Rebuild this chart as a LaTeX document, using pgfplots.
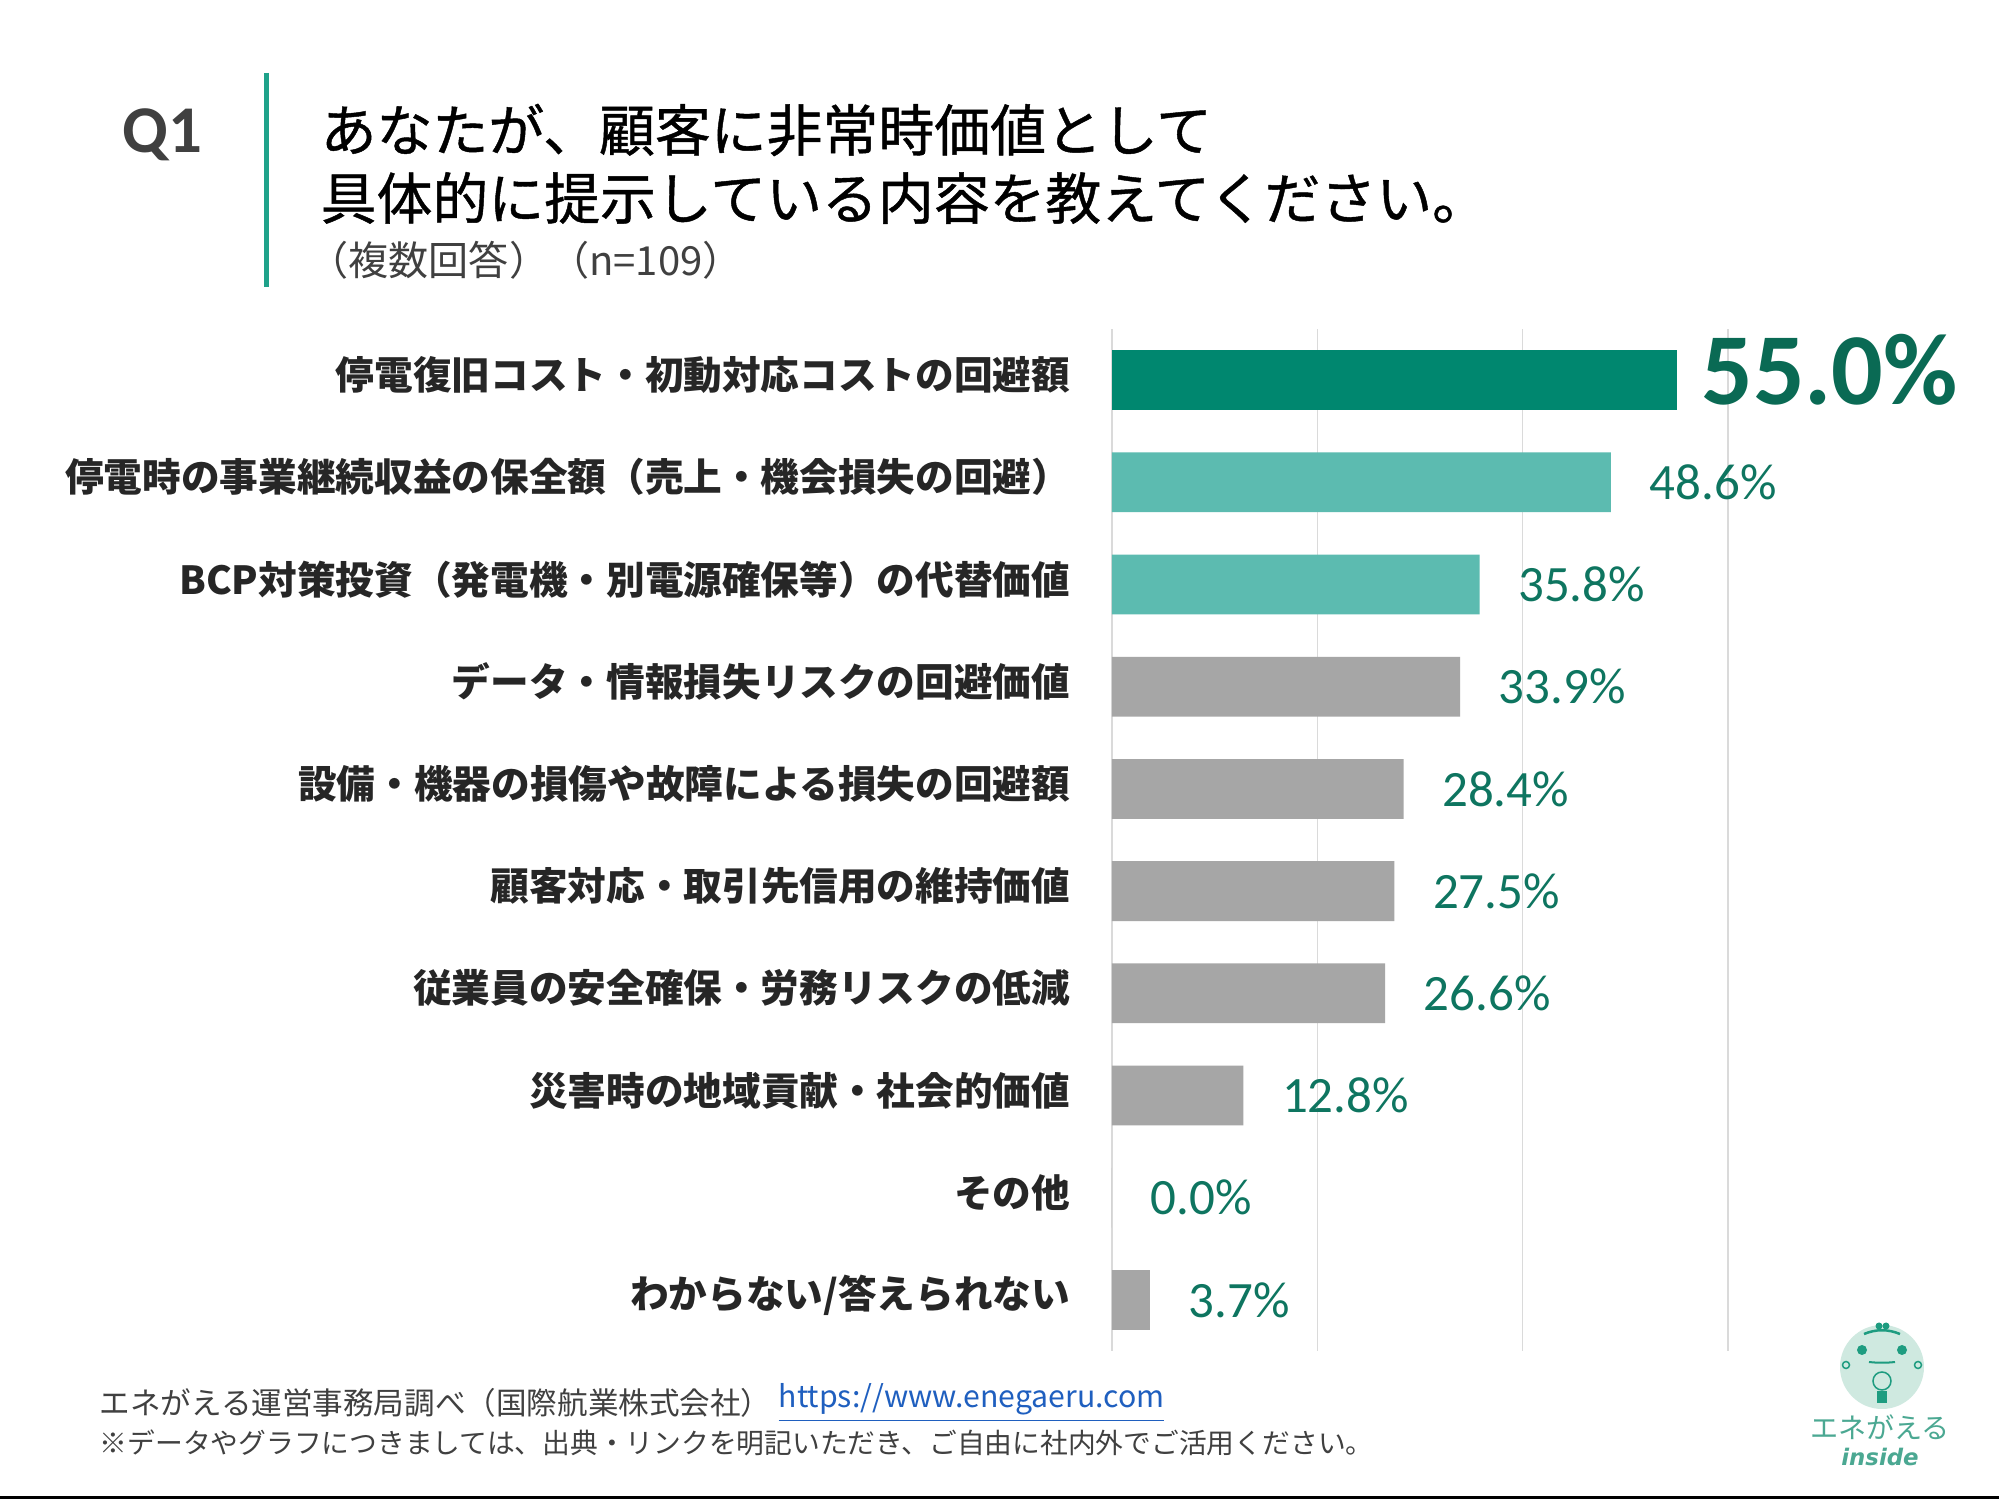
\documentclass[border=0pt]{standalone}
\usepackage{pgfplots}
\pgfplotsset{compat=1.18}
\usepackage{fontspec}
\setmainfont{Carlito}
\newfontfamily\jp{Noto Sans CJK JP}
\newfontfamily\jpm{Noto Sans CJK JP}[FakeBold=0.8]
\newfontfamily\logofont{DejaVu Sans}

\definecolor{barDark}{HTML}{00876F}
\definecolor{barLight}{HTML}{5CBBB0}
\definecolor{barGray}{HTML}{A6A6A6}
\definecolor{valText}{HTML}{0E7560}
\definecolor{valTextBig}{HTML}{0A6A54}
\definecolor{accent}{HTML}{1FA28A}
\definecolor{gridGray}{HTML}{DADADA}
\definecolor{textDark}{HTML}{262626}
\definecolor{noteGray}{HTML}{404040}
\definecolor{linkBlue}{HTML}{1F5FBF}
\definecolor{logoMint}{HTML}{CFE9E0}
\definecolor{logoTeal}{HTML}{1E9C80}
\definecolor{logoText}{HTML}{4BA892}

\begin{document}
\begin{tikzpicture}
\useasboundingbox (0,0) rectangle (19.99,15);
\fill[white] (0,0) rectangle (19.99,15);

% question header
\node[anchor=west, inner sep=0pt, text=noteGray] at (1.22,13.65)
  {\bfseries\fontsize{19}{22}\selectfont Q1};
\draw[accent, line width=0.05cm] (2.66,14.27) -- (2.66,12.13);
\node[anchor=west, inner sep=0pt, text=black] at (3.20,13.70)
  {\jpm\fontsize{15.9}{18}\selectfont あなたが、顧客に非常時価値として};
\node[anchor=west, inner sep=0pt, text=black] at (3.20,13.02)
  {\jpm\fontsize{15.9}{18}\selectfont 具体的に提示している内容を教えてください。};
\node[anchor=west, inner sep=0pt, text=noteGray] at (3.08,12.40)
  {\jp\fontsize{11.4}{13}\selectfont （複数回答）（n=109）};

\begin{axis}[
  at={(11.12cm,1.49cm)}, anchor=south west,
  scale only axis, width=6.16cm, height=10.22cm,
  xmin=0, xmax=60, ymin=-0.5, ymax=9.5, y dir=reverse,
  xbar, bar shift=0pt, bar width=0.598cm,
  axis line style={draw=none},
  xtick={0,20,40,60}, xticklabels={},
  xmajorgrids, major grid style={draw=gridGray, line width=0.015cm},
  major tick length=0pt,
  ytick={0,...,9},
  yticklabels={停電復旧コスト・初動対応コストの回避額,
    停電時の事業継続収益の保全額（売上・機会損失の回避）,
    BCP対策投資（発電機・別電源確保等）の代替価値,
    データ・情報損失リスクの回避価値,
    設備・機器の損傷や故障による損失の回避額,
    顧客対応・取引先信用の維持価値,
    従業員の安全確保・労務リスクの低減,
    災害時の地域貢献・社会的価値,
    その他,
    わからない/答えられない},
  yticklabel style={anchor=east, inner sep=0pt, xshift=-0.41cm, yshift=0.05cm,
    font=\jp\bfseries\fontsize{11}{13}\selectfont, text=textDark},
  clip=false,
  point meta=x,
  /pgf/number format/assume math mode=true,
  nodes near coords={\pgfmathprintnumber[fixed,fixed zerofill,precision=1]{\pgfplotspointmeta}\%},
  nodes near coords style={anchor=west, inner sep=0pt, xshift=0.38cm,
    text=valText, font=\fontsize{14.5}{16}\selectfont},
]
% top answer, highlighted
\addplot[fill=barDark, draw=none,
  nodes near coords style={xshift=-0.14cm, yshift=0.1cm, text=valTextBig,
    font=\bfseries\fontsize{29}{31}\selectfont}]
  coordinates {(55.0,0)};
\addplot[fill=barLight, draw=none]
  coordinates {(48.6,1) (35.8,2)};
\addplot[fill=barGray, draw=none]
  coordinates {(33.9,3) (28.4,4) (27.5,5) (26.6,6) (12.8,7) (0.0,8) (3.7,9)};
\end{axis}

% source notes
\node[anchor=west, inner sep=0pt, text=noteGray] at (0.99,0.97)
  {\jp\fontsize{8.7}{10}\selectfont エネがえる運営事務局調べ（国際航業株式会社）};
\node[anchor=west, inner sep=0pt, text=linkBlue] at (7.78,0.97)
  {\jp\fontsize{8.6}{10}\selectfont \underline{https://www.enegaeru.com}};
\node[anchor=west, inner sep=0pt, text=noteGray] at (0.99,0.57)
  {\jp\fontsize{7.9}{9}\selectfont ※データやグラフにつきましては、出典・リンクを明記いただき、ご自由に社内外でご活用ください。};

% logo
\begin{scope}[shift={(18.82,1.33)}]
  \fill[logoMint] (0,0) circle (0.42);
  \fill[logoTeal] (-0.2,0.17) circle (0.05);
  \fill[logoTeal] (0.2,0.17) circle (0.05);
  \draw[logoTeal, line width=0.02cm] (-0.13,0.05) .. controls (-0.04,0.04) and (0.04,0.04) .. (0.13,0.05);
  \draw[logoTeal, line width=0.025cm] (-0.18,0.33) .. controls (-0.06,0.38) and (0.06,0.38) .. (0.18,0.33);
  \fill[logoTeal] (-0.03,0.41) circle (0.035);
  \fill[logoTeal] (0.04,0.41) circle (0.035);
  \draw[logoTeal, line width=0.015cm] (-0.36,0.02) circle (0.035);
  \draw[logoTeal, line width=0.015cm] (0.36,0.02) circle (0.035);
  \draw[logoTeal, line width=0.015cm] (0,-0.14) circle (0.09);
  \fill[logoTeal] (-0.05,-0.24) rectangle (0.05,-0.36);
\end{scope}
\node[inner sep=0pt, text=logoText] at (18.80,0.73)
  {\jp\fontsize{8}{9}\selectfont エネがえる};
\node[inner sep=0pt, text=logoText] at (18.80,0.43)
  {\logofont\bfseries\itshape\fontsize{6.5}{8}\selectfont inside};

\draw[black, line width=0.03cm] (0,0.02) -- (19.99,0.02);
\end{tikzpicture}
\end{document}
